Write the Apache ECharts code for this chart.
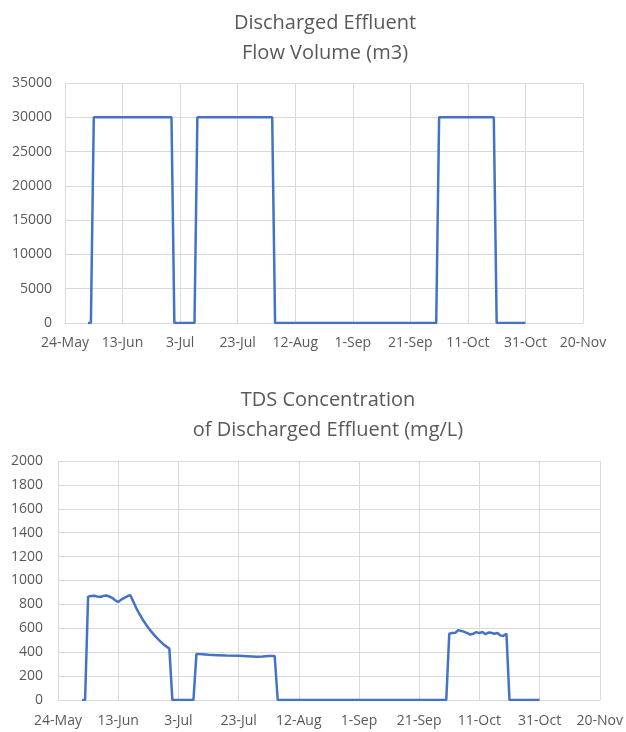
<!DOCTYPE html>
<html>
<head>
<meta charset="utf-8">
<script src="https://cdn.jsdelivr.net/npm/echarts@6/dist/echarts.min.js"></script>
<style>
html,body{margin:0;padding:0;background:#fff;}
#chart{width:626px;height:732px;}
</style>
</head>
<body>
<div id="chart"></div>
<script>
// ---- data ----
var startDate = '2021-05-24';
var xTickLabels = ['24-May','13-Jun','3-Jul','23-Jul','12-Aug','1-Sep','21-Sep','11-Oct','31-Oct','20-Nov'];

var flowDates = ['2021-06-01','2021-06-02','2021-06-03','2021-06-30','2021-07-01','2021-07-08','2021-07-09','2021-08-04','2021-08-05','2021-09-30','2021-10-01','2021-10-20','2021-10-21','2021-10-31'];
var flowValues = [0,0,30000,30000,0,0,30000,30000,0,0,30000,30000,0,0];

var tdsDates = ['2021-06-01','2021-06-02','2021-06-03','2021-06-04','2021-06-05','2021-06-06','2021-06-07','2021-06-08','2021-06-09','2021-06-10','2021-06-11','2021-06-12','2021-06-13','2021-06-14','2021-06-15','2021-06-16','2021-06-17','2021-06-18','2021-06-19','2021-06-20','2021-06-21','2021-06-22','2021-06-23','2021-06-24','2021-06-25','2021-06-26','2021-06-27','2021-06-28','2021-06-29','2021-06-30','2021-07-01','2021-07-08','2021-07-09','2021-07-11','2021-07-13','2021-07-16','2021-07-19','2021-07-23','2021-07-26','2021-07-29','2021-07-31','2021-08-02','2021-08-04','2021-08-05','2021-09-30','2021-10-01','2021-10-02','2021-10-03','2021-10-04','2021-10-05','2021-10-06','2021-10-07','2021-10-08','2021-10-09','2021-10-10','2021-10-11','2021-10-12','2021-10-13','2021-10-14','2021-10-15','2021-10-16','2021-10-17','2021-10-18','2021-10-19','2021-10-20','2021-10-21','2021-10-31'];
var tdsValues = [0,0,865,870,872,866,862,870,875,866,855,835,820,840,855,868,878,825,770,722,678,640,604,572,543,515,490,467,447,430,0,0,386,382,378,375,372,370,367,362,364,368,368,0,0,555,560,562,585,578,570,560,548,555,568,560,570,550,565,562,555,560,540,538,555,0,0];

// ---- helpers ----
function dayOffset(s){
  var p = s.split('-'), b = startDate.split('-');
  return (Date.UTC(+p[0], +p[1]-1, +p[2]) - Date.UTC(+b[0], +b[1]-1, +b[2])) / 86400000;
}
function pairs(dates, vals){
  return dates.map(function(d,i){ return [dayOffset(d), vals[i]]; });
}

var FONT = 'Open Sans';
var TXT = '#595959';
var GRID = '#d9d9d9';
var LINE = '#4472C4';

function xAxisCfg(gridIndex, margin){
  return {
    type: 'value', gridIndex: gridIndex, min: 0, max: 180, interval: 20,
    axisLine: {show: true, lineStyle: {color: GRID, width: 1}},
    axisTick: {show: false},
    splitLine: {show: true, lineStyle: {color: GRID, width: 1}},
    axisLabel: {
      color: TXT, fontFamily: FONT, fontSize: 14, margin: margin,
      formatter: function(v){ return xTickLabels[Math.round(v/20)]; }
    }
  };
}
function yAxisCfg(gridIndex, max, interval, margin){
  return {
    type: 'value', gridIndex: gridIndex, min: 0, max: max, interval: interval,
    axisLine: {show: false}, axisTick: {show: false},
    splitLine: {show: true, lineStyle: {color: GRID, width: 1}},
    axisLabel: {color: TXT, fontFamily: FONT, fontSize: 14, margin: margin,
      formatter: function(v){ return String(v); }}
  };
}

var chart = echarts.init(document.getElementById('chart'), null, {renderer: 'canvas'});
chart.setOption({
  animation: false,
  backgroundColor: '#ffffff',
  title: [
    {text: 'Discharged Effluent\nFlow Volume (m3)', left: 320, top: 3, textAlign: 'center',
     textStyle: {color: TXT, fontFamily: FONT, fontSize: 20, fontWeight: 'normal', lineHeight: 30}},
    {text: 'TDS Concentration\nof Discharged Effluent (mg/L)', left: 323, top: 380, textAlign: 'center',
     textStyle: {color: TXT, fontFamily: FONT, fontSize: 20, fontWeight: 'normal', lineHeight: 30}}
  ],
  grid: [
    {left: 65, top: 83, width: 518, height: 240},
    {left: 58, top: 461, width: 545, height: 239}
  ],
  xAxis: [xAxisCfg(0, 13), xAxisCfg(1, 14)],
  yAxis: [yAxisCfg(0, 35000, 5000, 13), yAxisCfg(1, 2000, 200, 15)],
  series: [
    {type: 'line', xAxisIndex: 0, yAxisIndex: 0, data: pairs(flowDates, flowValues),
     showSymbol: false, lineStyle: {color: LINE, width: 2.5}, itemStyle: {color: LINE}},
    {type: 'line', xAxisIndex: 1, yAxisIndex: 1, data: pairs(tdsDates, tdsValues),
     showSymbol: false, lineStyle: {color: LINE, width: 2.5}, itemStyle: {color: LINE}}
  ]
});
</script>
</body>
</html>
